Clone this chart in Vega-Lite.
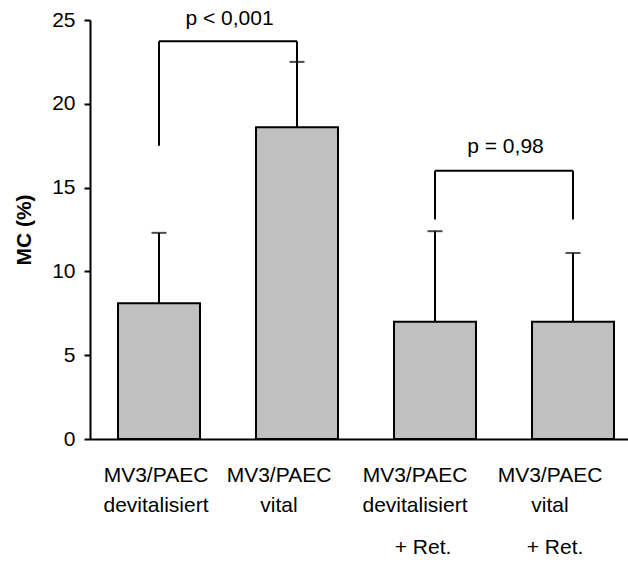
{
  "$schema": "https://vega.github.io/schema/vega-lite/v6.json",
  "width": 552,
  "height": 419,
  "autosize": "none",
  "padding": {"left": 90, "top": 20, "right": 0, "bottom": 124},
  "config": {
    "view": {"stroke": null},
    "font": "Liberation Sans",
    "axis": {
      "domainColor": "black",
      "domainWidth": 2,
      "tickColor": "black",
      "tickWidth": 2,
      "labelColor": "black",
      "labelFont": "Liberation Sans",
      "labelFontSize": 21,
      "titleColor": "black",
      "titleFont": "Liberation Sans",
      "grid": false
    }
  },
  "datasets": {
    "bars": [
      {"g": "A", "mc": 8.1, "err": 12.3},
      {"g": "B", "mc": 18.6, "err": 22.5},
      {"g": "C", "mc": 7.0, "err": 12.4},
      {"g": "D", "mc": 7.0, "err": 11.1}
    ],
    "legs": [
      {"g": "A", "mc": 17.5, "y2": 23.73},
      {"g": "B", "mc": 22.5, "y2": 23.73},
      {"g": "C", "mc": 13.1, "y2": 16.0},
      {"g": "D", "mc": 13.1, "y2": 16.0}
    ],
    "spans": [
      {"g1": "A", "g2": "B", "mc": 23.73},
      {"g1": "C", "g2": "D", "mc": 16.0}
    ],
    "pvals": [
      {"g": "A", "mc": 25.05, "label": "p < 0,001"},
      {"g": "C", "mc": 17.42, "label": "p = 0,98"}
    ]
  },
  "encoding": {
    "y": {
      "field": "mc",
      "type": "quantitative",
      "scale": {"domain": [0, 25], "nice": false},
      "axis": {
        "title": "MC (%)",
        "titleFontSize": 21,
        "titleFontWeight": "bold",
        "titlePadding": 17,
        "values": [0, 5, 10, 15, 20, 25],
        "tickSize": 6,
        "labelPadding": 9
      }
    }
  },
  "layer": [
    {
      "data": {"name": "bars"},
      "mark": {"type": "bar", "fill": "#c0c0c0", "stroke": "black", "strokeWidth": 2},
      "encoding": {
        "x": {
          "field": "g",
          "type": "nominal",
          "scale": {"domain": ["A", "B", "C", "D"], "paddingInner": 0.406, "paddingOuter": 0.203},
          "axis": {
            "title": null,
            "ticks": false,
            "tickSize": 0,
            "labelPadding": 25,
            "labelAngle": 0,
            "labelLineHeight": 30,
            "labelBaseline": "top",
            "labelOverlap": false,
            "labelExpr": "datum.value == 'A' || datum.value == 'C' ? ['MV3/PAEC', 'devitalisiert'] : ['MV3/PAEC', 'vital']",
            "labelOffset": {
              "condition": [
                {"test": "datum.value === 'B'", "value": -18},
                {"test": "datum.value === 'C'", "value": -20},
                {"test": "datum.value === 'D'", "value": -23}
              ],
              "value": -3
            }
          }
        }
      }
    },
    {
      "data": {"name": "bars"},
      "mark": {"type": "rule", "color": "black", "strokeWidth": 2},
      "encoding": {
        "x": {"field": "g", "type": "nominal", "axis": null},
        "y2": {"field": "err"}
      }
    },
    {
      "data": {"name": "bars"},
      "mark": {"type": "tick", "color": "black", "thickness": 2, "size": 15, "orient": "horizontal"},
      "encoding": {
        "x": {"field": "g", "type": "nominal", "axis": null},
        "y": {"field": "err", "type": "quantitative"}
      }
    },
    {
      "data": {"name": "legs"},
      "mark": {"type": "rule", "color": "black", "strokeWidth": 2},
      "encoding": {
        "x": {
          "field": "g",
          "type": "nominal",
          "axis": {
            "orient": "bottom",
            "title": null,
            "domain": false,
            "ticks": false,
            "tickSize": 0,
            "labelPadding": 97,
            "labelAngle": 0,
            "labelBaseline": "top",
            "labelOverlap": false,
            "labelExpr": "datum.value == 'C' || datum.value == 'D' ? '+ Ret.' : ''",
            "labelOffset": {
              "condition": [{"test": "datum.value === 'D'", "value": -18}],
              "value": -12
            }
          }
        },
        "y2": {"field": "y2"}
      }
    },
    {
      "data": {"name": "spans"},
      "mark": {"type": "rule", "color": "black", "strokeWidth": 2},
      "encoding": {
        "x": {"field": "g1", "type": "nominal", "axis": null},
        "x2": {"field": "g2"}
      }
    },
    {
      "data": {"name": "pvals"},
      "mark": {"type": "text", "color": "black", "fontSize": 21, "baseline": "middle", "align": "center", "font": "Liberation Sans"},
      "encoding": {
        "x": {"field": "g", "type": "nominal", "bandPosition": 1.36, "axis": null},
        "text": {"field": "label"}
      }
    }
  ],
  "resolve": {"axis": {"x": "independent"}}
}
